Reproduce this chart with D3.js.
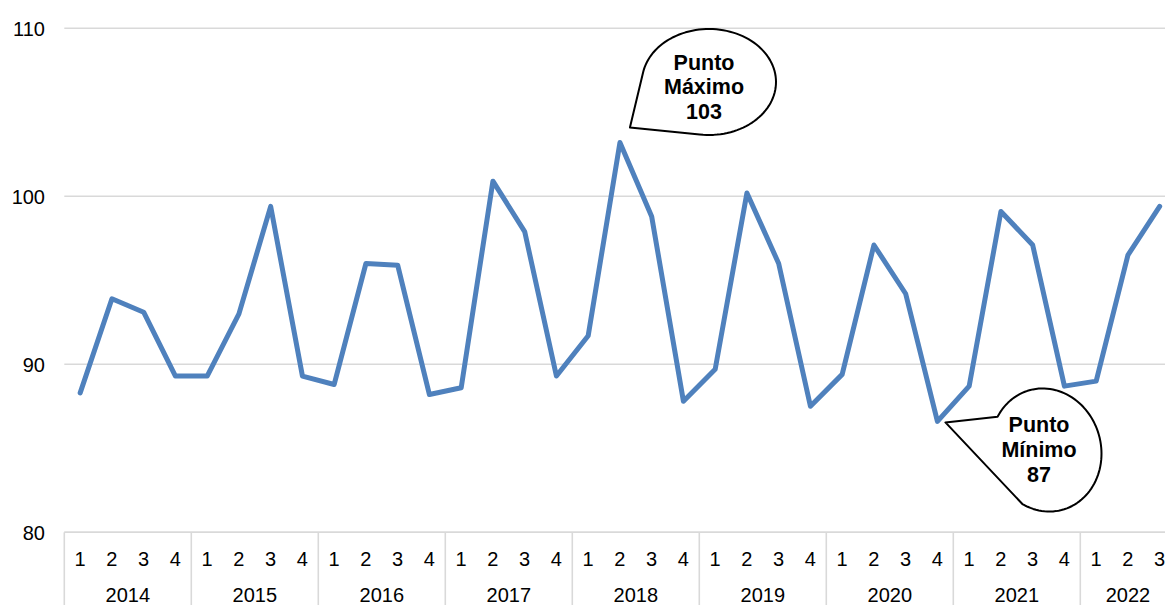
<!DOCTYPE html>
<html>
<head>
<meta charset="utf-8">
<script src="https://cdn.jsdelivr.net/npm/d3@7"></script>
<style>
  html, body { margin: 0; padding: 0; background: #fff; }
  svg { display: block; font-family: "Liberation Sans", Arial, sans-serif; }
</style>
</head>
<body>
<svg id="chart" width="1165" height="605"></svg>
<script>
// ---- data ----
const years = ["2014", "2015", "2016", "2017", "2018", "2019", "2020", "2021", "2022"];
const quartersPerYear = [4, 4, 4, 4, 4, 4, 4, 4, 3];
const values = [
  88.3, 93.9, 93.1, 89.3,
  89.3, 93.0, 99.4, 89.3,
  88.8, 96.0, 95.9, 88.2,
  88.6, 100.9, 97.9, 89.3,
  91.7, 103.2, 98.8, 87.8,
  89.7, 100.2, 96.0, 87.5,
  89.4, 97.1, 94.2, 86.6,
  88.7, 99.1, 97.1, 88.7,
  89.0, 96.5, 99.4
];
const yTicks = [80, 90, 100, 110];
const maxLabel = ["Punto", "Máximo", "103"];
const minLabel = ["Punto", "Mínimo", "87"];

// build category list
const cats = [];
years.forEach((y, i) => {
  for (let q = 1; q <= quartersPerYear[i]; q++) cats.push({ year: y, q: String(q), key: y + "-" + q });
});
const data = cats.map((c, i) => ({ ...c, v: values[i] }));

const svg = d3.select("#chart");
const left = 64.3, bandW = 31.75;
const x = d3.scaleBand().domain(cats.map(c => c.key)).range([left, left + bandW * cats.length]).paddingInner(0).paddingOuter(0);
const y = d3.scaleLinear().domain([80, 110]).range([532.3, 28.3]);

// gridlines
svg.append("g").selectAll("line").data(yTicks).join("line")
  .attr("x1", left).attr("x2", 1165)
  .attr("y1", d => y(d)).attr("y2", d => y(d))
  .attr("stroke", "#D9D9D9").attr("stroke-width", 1.6);

// y axis labels
const yAxis = d3.axisLeft(y).tickValues(yTicks).tickSize(0).tickPadding(0);
const gy = svg.append("g").attr("transform", "translate(45,0)").call(yAxis);
gy.select(".domain").remove();
gy.selectAll("text").attr("font-size", 20).attr("fill", "#000")
  .attr("font-family", "'Liberation Sans', Arial, sans-serif").attr("dy", "0.35em");

// category axis: quarters
const xAxis = d3.axisBottom(x).tickSize(0).tickPadding(0).tickFormat(k => k.split("-")[1]);
const gx = svg.append("g").attr("transform", "translate(0,532.3)").call(xAxis);
gx.select(".domain").remove();
gx.selectAll("text").attr("font-size", 20).attr("fill", "#000")
  .attr("font-family", "'Liberation Sans', Arial, sans-serif")
  .attr("y", 33.5).attr("dy", 0);

// axis baseline
svg.append("line").attr("x1", left).attr("x2", 1165).attr("y1", y(80)).attr("y2", y(80))
  .attr("stroke", "#D9D9D9").attr("stroke-width", 1.6);

// year separators and labels
let idx = 0;
const yearInfo = years.map((yr, i) => {
  const start = x(cats[idx].key);
  const end = start + bandW * quartersPerYear[i];
  idx += quartersPerYear[i];
  return { yr, start, end };
});
svg.append("g").selectAll("line").data(yearInfo).join("line")
  .attr("x1", d => d.start).attr("x2", d => d.start)
  .attr("y1", y(80)).attr("y2", 605)
  .attr("stroke", "#D9D9D9").attr("stroke-width", 1.6);
svg.append("g").selectAll("text").data(yearInfo).join("text")
  .attr("x", d => (d.start + d.end) / 2).attr("y", 601.5)
  .attr("text-anchor", "middle").attr("font-size", 20).attr("fill", "#000")
  .text(d => d.yr);

// callouts (drawn before the line so the series stays visible)
function callout(cx, cy, rx, ry, rot, a0, a1, tip, lines, textX, baseY, lh) {
  const pts = [];
  const n = 90;
  const r = rot * Math.PI / 180, cr = Math.cos(r), sr = Math.sin(r);
  for (let i = 0; i <= n; i++) {
    const a = (a0 + (a1 - a0) * i / n) * Math.PI / 180;
    const ex = rx * Math.cos(a), ey = ry * Math.sin(a);
    pts.push([cx + ex * cr - ey * sr, cy + ex * sr + ey * cr]);
  }
  const p = d3.path();
  p.moveTo(pts[0][0], pts[0][1]);
  pts.slice(1).forEach(q => p.lineTo(q[0], q[1]));
  p.lineTo(tip[0], tip[1]);
  p.closePath();
  const g = svg.append("g");
  g.append("path").attr("d", p.toString()).attr("fill", "#fff")
    .attr("stroke", "#000").attr("stroke-width", 2).attr("stroke-linejoin", "round");
  g.selectAll("text").data(lines).join("text")
    .attr("x", textX).attr("y", (d, i) => baseY + i * lh)
    .attr("text-anchor", "middle").attr("font-size", 21.5).attr("font-weight", "bold")
    .attr("fill", "#000").text(d => d);
}

const iMax = values.indexOf(d3.max(values));
const iMin = values.indexOf(d3.min(values));
const pMax = [x(cats[iMax].key) + x.bandwidth() / 2, y(values[iMax])];
const pMin = [x(cats[iMin].key) + x.bandwidth() / 2, y(values[iMin])];

callout(709, 82, 67, 53, 0, 190, 458, [pMax[0] + 10, pMax[1] - 15], maxLabel, 704, 69.5, 24.5);
callout(1046, 450, 55, 62, -15, 226, 492, [pMin[0] + 8, pMin[1] + 1], minLabel, 1039, 431.5, 25);

// the line
const line = d3.line().x(d => x(d.key) + x.bandwidth() / 2).y(d => y(d.v));
svg.append("path").datum(data).attr("d", line)
  .attr("fill", "none").attr("stroke", "#4F81BD").attr("stroke-width", 5)
  .attr("stroke-linejoin", "round").attr("stroke-linecap", "round");
</script>
</body>
</html>
